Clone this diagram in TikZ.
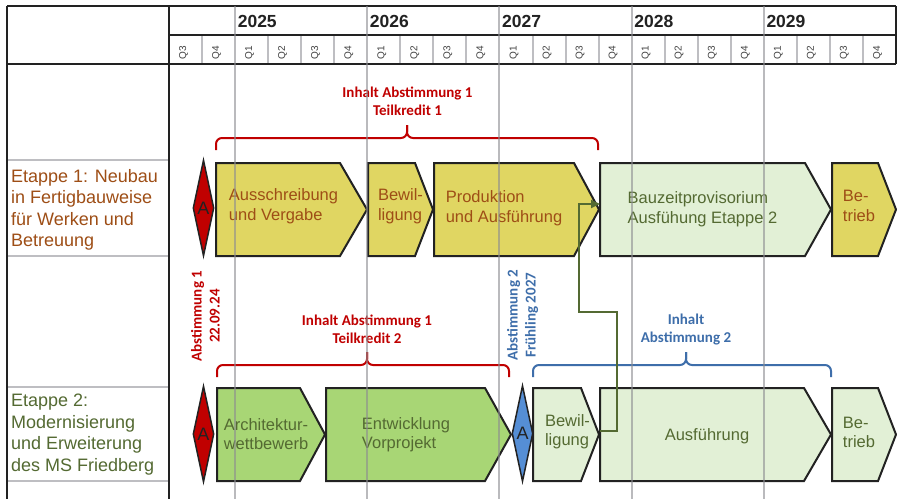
\documentclass[tikz,border=0pt]{standalone}
\usepackage{fontspec}
\setmainfont{Liberation Sans}
\newfontfamily\calibri{Carlito}
\usetikzlibrary{arrows.meta, shapes.geometric}

\definecolor{gelb}{RGB}{224,214,98}
\definecolor{hellgruen}{RGB}{226,240,214}
\definecolor{gruen}{RGB}{168,214,117}
\definecolor{braun}{RGB}{158,78,22}
\definecolor{oliv}{RGB}{84,106,50}
\definecolor{dunkelrot}{RGB}{192,0,0}
\definecolor{blau}{RGB}{62,110,170}
\definecolor{rautenblau}{RGB}{85,142,213}
\definecolor{rahmen}{RGB}{34,34,34}
\definecolor{raster}{RGB}{190,190,194}
\definecolor{jahrlinie}{RGB}{140,140,145}

\begin{document}
\begin{tikzpicture}[x=1pt, y=-1pt,
    frame/.style={draw=rahmen, line width=2.5pt},
    grid/.style={draw=raster, line width=2pt},
    chev/.style={draw=rahmen, line width=2pt},
    txt/.style={align=left, inner sep=0pt, font=\fontsize{16.5}{19.5}\selectfont},
    raute/.style={diamond, draw=rahmen, line width=1.5pt, inner sep=0pt, shape aspect=0.2,
        minimum width=21pt, minimum height=96pt, text=rahmen, font=\fontsize{18}{20}\selectfont},
    klammer/.style={line width=2pt, rounded corners=6pt},
    hinweis/.style={align=center, inner sep=0pt, font=\calibri\bfseries\fontsize{15}{18}\selectfont},
    link/.style={draw=oliv, line width=2pt, -{Triangle[length=9pt, width=8pt]}},
]
\fill[white] (0,0) rectangle (897,499);
\useasboundingbox (0,0) rectangle (897,499);

% table head: years and quarters
\foreach \i in {1,3,4,5,7,8,9,11,12,13,15,16,17,19,20,21}
    \draw[grid] (169+\i*33.045,35) -- (169+\i*33.045,64);
\foreach \y in {160,256,387,481}
    \draw[grid] (7,\y) -- (169,\y);
\draw[frame] (7,6) -- (896,6);
\draw[frame] (169,35) -- (896,35);
\draw[frame] (7,64) -- (896,64);
\draw[frame] (896,6) -- (896,64);
\draw[frame] (7,6) -- (7,499);
\draw[frame] (169,6) -- (169,499);

\foreach \j/\jahr in {2/2025,6/2026,10/2027,14/2028,18/2029}
    \node[anchor=base west, inner sep=0pt, text=rahmen, font=\bfseries\fontsize{17.5}{21}\selectfont]
        (j\jahr) at (169+\j*33.045+2.5,27.5) {\jahr};
\foreach \q [count=\i from 0] in {Q3,Q4,Q1,Q2,Q3,Q4,Q1,Q2,Q3,Q4,Q1,Q2,Q3,Q4,Q1,Q2,Q3,Q4,Q1,Q2,Q3,Q4}
    \node[rotate=90, inner sep=0pt, text=rahmen!85, font=\fontsize{10}{12}\selectfont]
        (q\i) at (169+\i*33.045+14.5,52.5) {\q};

% stages
\node[anchor=west, align=left, inner sep=0pt, text=braun, font=\fontsize{18}{21.5}\selectfont]
    (etappe1) at (11,210) {Etappe 1: Neubau\\in Fertigbauweise\\für Werken und\\Betreuung};
\node[anchor=west, align=left, inner sep=0pt, text=oliv, font=\fontsize{18}{21.5}\selectfont]
    (etappe2) at (11,434.5) {Etappe 2:\\Modernisierung\\und Erweiterung\\des MS Friedberg};

% Etappe 1
\draw[chev, fill=gelb] (216,163) -- (340,163) -- (367,209.5) -- (340,256) -- (216,256) -- cycle;
\draw[chev, fill=gelb] (368,163) -- (415,163) -- (433,209.5) -- (415,256) -- (368,256) -- cycle;
\draw[chev, fill=gelb] (434,163) -- (574,163) -- (599,209.5) -- (574,256) -- (434,256) -- cycle;
\draw[chev, fill=hellgruen] (600,163) -- (805,163) -- (831,209.5) -- (805,256) -- (600,256) -- cycle;
\draw[chev, fill=gelb] (832,163) -- (878,163) -- (896,209.5) -- (878,256) -- (832,256) -- cycle;
\node[txt, text=braun] (ausschr) at (283.5,206) {Ausschreibung\\und Vergabe};
\node[txt, text=braun] (bewil1) at (400.5,206) {Bewil-\\ligung};
\node[txt, text=braun] (prod) at (504,208) {Produktion\\und Ausführung};
\node[txt, text=oliv] (bauz) at (702.5,209) {Bauzeitprovisorium\\Ausfühung Etappe 2};
\node[txt, text=braun] (betrieb1) at (859,206) {Be-\\trieb};

% Etappe 2
\draw[chev, fill=gruen] (217,388) -- (300,388) -- (325,434.5) -- (300,481) -- (217,481) -- cycle;
\draw[chev, fill=gruen] (326,388) -- (485,388) -- (511,434.5) -- (485,481) -- (326,481) -- cycle;
\draw[chev, fill=hellgruen] (533,388) -- (581,388) -- (599,434.5) -- (581,481) -- (533,481) -- cycle;
\draw[chev, fill=hellgruen] (600,388) -- (804,388) -- (831,434.5) -- (804,481) -- (600,481) -- cycle;
\draw[chev, fill=hellgruen] (832,388) -- (878,388) -- (896,434.5) -- (878,481) -- (832,481) -- cycle;
\node[txt, text=oliv] (archi) at (266,434) {Architektur-\\wettbewerb};
\node[txt, text=oliv] (entw) at (406,434.5) {Entwicklung\\Vorprojekt};
\node[txt, text=oliv] (bewil2) at (567.5,431.5) {Bewil-\\ligung};
\node[txt, text=oliv] (ausf) at (707,436) {Ausführung};
\node[txt, text=oliv] (betrieb2) at (859,432.5) {Be-\\trieb};

% Abstimmungen
\node[raute, fill=dunkelrot] (abst1) at (203.5,208) {A};
\node[raute, fill=dunkelrot] (abst1b) at (203.5,434) {A};
\node[raute, fill=rautenblau] (abst2) at (522.5,433.5) {A};
\node[hinweis, text=dunkelrot, rotate=90] (termin1) at (205.5,316) {Abstimmung 1\\22.09.24};
\node[hinweis, text=blau, rotate=90] (termin2) at (522.5,315) {Abstimmung 2\\Frühling 2027};

% braces
\draw[klammer, dunkelrot] (216,150) |- (407,138) -- (407,125);
\draw[klammer, dunkelrot] (598,150) |- (407,138) -- (407,125);
\node[hinweis, text=dunkelrot] (inhalt1) at (407.5,101) {Inhalt Abstimmung 1\\Teilkredit 1};
\draw[klammer, dunkelrot] (217,377) |- (367,365) -- (367,352);
\draw[klammer, dunkelrot] (509,377) |- (367,365) -- (367,352);
\node[hinweis, text=dunkelrot] (inhalt2) at (367,329) {Inhalt Abstimmung 1\\Teilkredit 2};
\draw[klammer, blau] (533,377) |- (686,365) -- (686,352);
\draw[klammer, blau] (831,377) |- (686,365) -- (686,352);
\node[hinweis, text=blau] (inhalt3) at (686,330) {Inhalt\\Abstimmung 2};

% Ausführung Etappe 2 feeds the provisional building
\coordinate (ausf-ein) at (600,431);
\coordinate (bauz-ein) at (600,204);
\draw[link] (ausf-ein) -- (617,431) |- (579,312) |- (bauz-ein);

% year lines run across everything
\foreach \j in {2,6,10,14,18}
    \draw[draw=jahrlinie, line width=2pt, opacity=0.6] (169+\j*33.045,6) -- (169+\j*33.045,499);
\end{tikzpicture}
\end{document}
